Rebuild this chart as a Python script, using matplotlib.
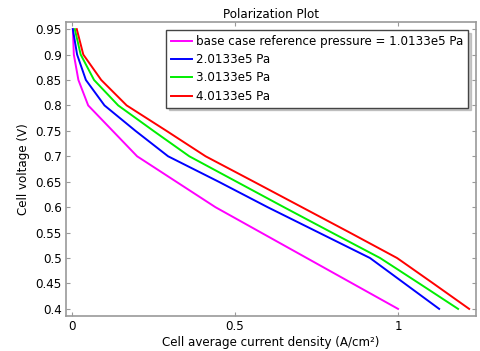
import matplotlib.pyplot as plt

# Cell voltage (V) sweep
voltage = [0.95, 0.9, 0.85, 0.8, 0.75, 0.7, 0.65, 0.6, 0.55, 0.5, 0.45, 0.4]

# Current density (A/cm^2) for each pressure
i_base = [0.003, 0.006, 0.02, 0.05, 0.125, 0.2, 0.32, 0.44, 0.58, 0.72, 0.86, 1.0]
i_2 = [0.003, 0.016, 0.043, 0.1, 0.195, 0.295, 0.45, 0.6, 0.757, 0.914, 1.02, 1.126]
i_3 = [0.009, 0.027, 0.068, 0.142, 0.25, 0.36, 0.505, 0.65, 0.797, 0.945, 1.065, 1.184]
i_4 = [0.015, 0.035, 0.09, 0.168, 0.29, 0.41, 0.558, 0.705, 0.852, 0.997, 1.108, 1.218]

labels = ["base case reference pressure = 1.0133e5 Pa",
          "2.0133e5 Pa", "3.0133e5 Pa", "4.0133e5 Pa"]
colors = ["#ff00ff", "#0000ff", "#00ee00", "#ff0000"]

yticks = [0.4, 0.45, 0.5, 0.55, 0.6, 0.65, 0.7, 0.75, 0.8, 0.85, 0.9, 0.95]
ytick_labels = ["0.4", "0.45", "0.5", "0.55", "0.6", "0.65", "0.7", "0.75",
                "0.8", "0.85", "0.9", "0.95"]
xticks = [0, 0.5, 1]
xtick_labels = ["0", "0.5", "1"]

fs = 8.6
plt.rcParams["font.family"] = "DejaVu Sans"
plt.rcParams["font.size"] = fs

fig = plt.figure(figsize=(4.8, 3.51), dpi=100)
ax = fig.add_axes([66 / 480, 1 - 316 / 351, 410 / 480, 294 / 351])

for xs, lab, c in zip([i_base, i_2, i_3, i_4], labels, colors):
    ax.plot(xs, voltage, color=c, lw=1.4, label=lab)

ax.set_xlim(-0.018, 1.239)
ax.set_ylim(0.386, 0.964)
ax.set_yticks(yticks)
ax.set_yticklabels(ytick_labels)
ax.set_xticks(xticks)
ax.set_xticklabels(xtick_labels)
ax.tick_params(direction="in", top=True, right=True, length=3, color="#999999",
               labelsize=fs, labelcolor="black", pad=3)
for s in ax.spines.values():
    s.set_color("#999999")
    s.set_linewidth(1.2)

ax.set_title("Polarization Plot", fontsize=fs, pad=3)
ax.set_xlabel("Cell average current density (A/cm²)", fontsize=fs, labelpad=2)
ax.set_ylabel("Cell voltage (V)", fontsize=fs, labelpad=4)

leg = ax.legend(loc="upper right", bbox_to_anchor=(0.98, 0.973), borderaxespad=0,
                fancybox=False, shadow={"ox": 2, "oy": -2, "color": "#999999"},
                framealpha=1, edgecolor="#444444", fontsize=fs, handlelength=1.75,
                handletextpad=0.3, borderpad=0.4, labelspacing=0.45)
leg.get_frame().set_linewidth(1.0)

fig.savefig("out.png", dpi=100)
